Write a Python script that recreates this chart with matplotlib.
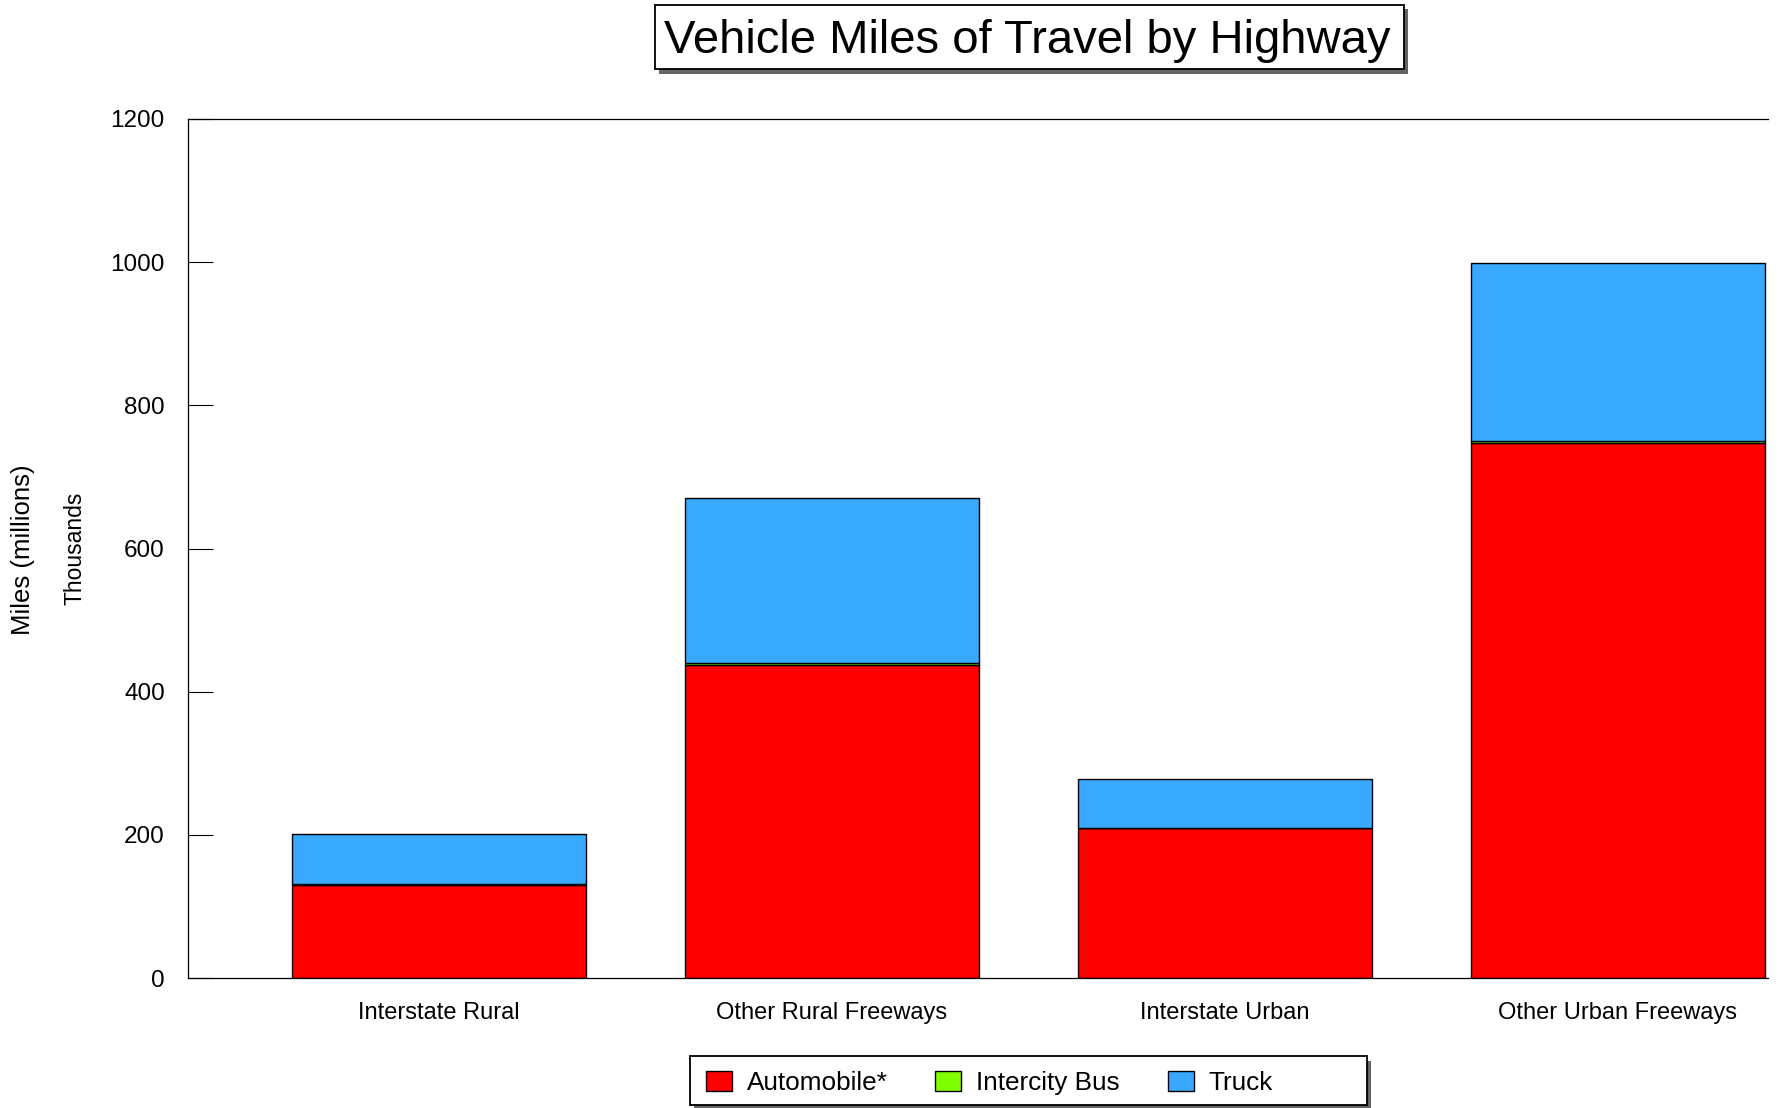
import matplotlib
matplotlib.use("Agg")
import matplotlib.pyplot as plt
from matplotlib.patches import Rectangle
import numpy as np

plt.rcParams["font.family"] = ["Liberation Sans", "DejaVu Sans"]

categories = ["Interstate Rural", "Other Rural Freeways", "Interstate Urban", "Other Urban Freeways"]
automobile = [130, 437, 209, 747]
intercity_bus = [1, 3, 1, 3]
truck = [70, 230, 68, 249]
y_ticks = [0, 200, 400, 600, 800, 1000, 1200]

RED = "#FF0000"
GREEN = "#80FF00"
BLUE = "#39A9FF"

fig = plt.figure(figsize=(17.79, 11.08), dpi=100)
ax = fig.add_axes([0.1059, 0.1173, 0.8877, 0.7753])

x = np.arange(len(categories))
w = 0.75
auto = np.array(automobile)
bus = np.array(intercity_bus)
trk = np.array(truck)

ax.bar(x, auto, w, color=RED, edgecolor="black", linewidth=1.0, label="Automobile*")
ax.bar(x, bus, w, bottom=auto, color=GREEN, edgecolor="black", linewidth=1.0, label="Intercity Bus")
ax.bar(x, trk, w, bottom=auto + bus, color=BLUE, edgecolor="black", linewidth=1.0, label="Truck")

ax.set_xlim(-0.638, 3.381)
ax.set_ylim(0, 1200)
ax.set_yticks(y_ticks)
ax.set_xticks(x)
ax.set_xticklabels(categories, fontsize=17)
ax.tick_params(axis="x", length=0, pad=17)
ax.tick_params(axis="y", direction="in", length=18, width=0.8, labelsize=17.5, pad=17)
ax.spines["right"].set_visible(False)
for s in ["left", "bottom", "top"]:
    ax.spines[s].set_linewidth(0.9)

fig.text(0.0128, 0.5036, "Miles (millions)", rotation=90, ha="center", va="center", fontsize=18.5)
fig.text(0.042, 0.505, "Thousands", rotation=90, ha="center", va="center", fontsize=16.5)


def shadow_box(x0, y0, wd, ht):
    # grey drop shadow, then white framed box, in figure coordinates
    fig.patches.append(Rectangle((x0 + 0.0025, y0 - 0.0041), wd, ht, transform=fig.transFigure,
                                 facecolor="0.4", edgecolor="none", zorder=0))
    fig.patches.append(Rectangle((x0, y0), wd, ht, transform=fig.transFigure,
                                 facecolor="white", edgecolor="black", linewidth=1.3, zorder=1))


# title box
shadow_box(0.3680, 0.9375, 0.4210, 0.0584)
fig.text(0.5775, 0.9632, "Vehicle Miles of Travel by Highway", ha="center", va="center",
         fontsize=34, zorder=2)

# legend box
shadow_box(0.3878, 0.0026, 0.3806, 0.0440)
leg = fig.legend(loc="center left", bbox_to_anchor=(0.3967, 0.0228), ncol=3, fontsize=18.8,
                 frameon=False, handlelength=1.0, handleheight=0.85, handletextpad=0.57,
                 columnspacing=1.83, borderpad=0, borderaxespad=0)
leg.set_zorder(3)

fig.savefig("out.png", dpi=100)
